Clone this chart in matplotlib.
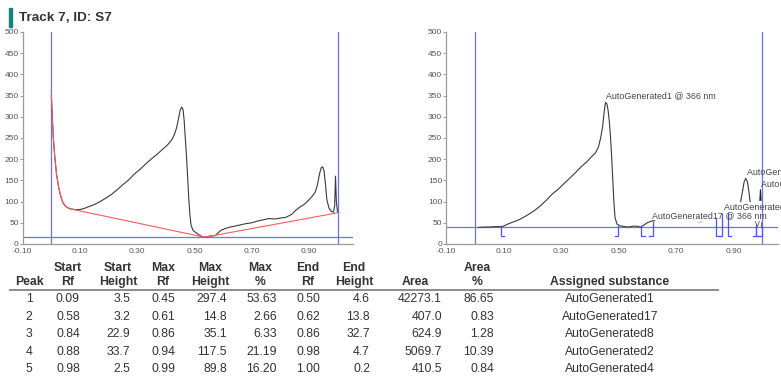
import matplotlib
matplotlib.use("Agg")
import matplotlib.pyplot as plt
from matplotlib.patches import Rectangle
from matplotlib.lines import Line2D

plt.rcParams['font.family'] = ['Liberation Sans', 'DejaVu Sans']

# ---------------- data ----------------
title = "Track 7, ID: S7"

# raw densitogram (left panel)
raw_rf = [0.000, 0.003, 0.007, 0.012, 0.018, 0.025, 0.033, 0.040, 0.048, 0.056,
          0.065, 0.075, 0.085, 0.095, 0.105, 0.115, 0.130, 0.150, 0.170, 0.190,
          0.210, 0.230, 0.250, 0.270, 0.290, 0.310, 0.330, 0.350, 0.370, 0.390,
          0.405, 0.420, 0.430, 0.438, 0.445, 0.450, 0.455, 0.460, 0.464, 0.468,
          0.472, 0.476, 0.480, 0.484, 0.488, 0.495, 0.505, 0.515, 0.525, 0.535,
          0.545, 0.555, 0.565, 0.575, 0.585, 0.595, 0.610, 0.625, 0.640, 0.660,
          0.680, 0.700, 0.720, 0.740, 0.760, 0.780, 0.800, 0.820, 0.840, 0.855,
          0.870, 0.885, 0.900, 0.912, 0.922, 0.930, 0.937, 0.943, 0.948, 0.953,
          0.958, 0.963, 0.970, 0.978, 0.986, 0.990, 0.993, 0.996, 1.000, 1.004]
raw_h = [350, 300, 250, 205, 165, 135, 112, 98, 90, 86,
         83, 82, 81, 81, 82, 84, 88, 93, 100, 108,
         117, 128, 140, 151, 165, 176, 189, 201, 212, 224,
         233, 245, 258, 275, 298, 315, 323, 318, 292, 250,
         210, 160, 110, 70, 45, 32, 27, 22, 18, 16,
         17, 19, 19, 21, 28, 33, 37, 40, 42, 45,
         48, 50, 54, 57, 60, 59, 61, 63, 70, 80,
         88, 94, 104, 113, 122, 140, 165, 180, 182, 172,
         140, 104, 85, 77, 75, 90, 160, 100, 76, 74]

# baseline (left panel)
base_rf = [0.000, 0.003, 0.007, 0.012, 0.018, 0.025, 0.033, 0.040, 0.048,
           0.056, 0.065, 0.535, 1.004]
base_h = [350, 300, 250, 205, 165, 135, 112, 98, 90, 86, 83, 16, 74]

left_hline = 16
right_hline = 39

# baseline-corrected track (right panel), drawn in pieces
corr_rf = [0.013, 0.030, 0.050, 0.070, 0.090, 0.100, 0.115, 0.130, 0.150, 0.170,
           0.190, 0.210, 0.230, 0.250, 0.270, 0.290, 0.310, 0.330, 0.350, 0.370,
           0.390, 0.405, 0.420, 0.430, 0.438, 0.445, 0.450, 0.455, 0.460, 0.464,
           0.468, 0.472, 0.476, 0.480, 0.484, 0.488, 0.495, 0.505, 0.520, 0.535,
           0.550, 0.565, 0.575, 0.585, 0.600, 0.615, 0.626]
corr_h = [39, 40, 40, 41, 41, 42, 47, 51, 56, 63,
          71, 80, 91, 104, 118, 129, 142, 155, 168, 182,
          194, 205, 215, 228, 250, 278, 310, 334, 330, 315,
          290, 255, 210, 155, 100, 62, 47, 43, 41, 40,
          42, 42, 40, 43, 50, 54, 55]
frag_rf = [0.776, 0.782, 0.788, 0.796]
frag_h = [51, 51, 52, 52]
p4_rf = [0.925, 0.931, 0.937, 0.943, 0.949, 0.954, 0.958]
p4_h = [100, 122, 146, 155, 146, 122, 100]
p5_rf = [0.992, 0.994, 0.996]
p5_h = [103, 128, 103]
v_rf = [0.976, 0.983, 0.990]
v_h = [53, 41, 53]

# peak table
peak_no = [1, 2, 3, 4, 5]
start_rf = [0.09, 0.58, 0.84, 0.88, 0.98]
start_height = [3.5, 3.2, 22.9, 33.7, 2.5]
max_rf = [0.45, 0.61, 0.86, 0.94, 0.99]
max_height = [297.4, 14.8, 35.1, 117.5, 89.8]
max_pct = [53.63, 2.66, 6.33, 21.19, 16.20]
end_rf = [0.50, 0.62, 0.86, 0.98, 1.00]
end_height = [4.6, 13.8, 32.7, 4.7, 0.2]
area = [42273.1, 407.0, 624.9, 5069.7, 410.5]
area_pct = [86.65, 0.83, 1.28, 10.39, 0.84]
substance = ["AutoGenerated1", "AutoGenerated17", "AutoGenerated8",
             "AutoGenerated2", "AutoGenerated4"]
wavelength = "366 nm"

x_ticks = [-0.10, 0.10, 0.30, 0.50, 0.70, 0.90]
y_ticks = [0, 50, 100, 150, 200, 250, 300, 350, 400, 450, 500]

# ---------------- figure ----------------
W, H, DPI = 781, 376, 100
fig = plt.figure(figsize=(W / DPI, H / DPI), dpi=DPI)

TXT = "#333333"
TICK = "#555555"
BLUE = "#6e6eff"
CURVE = "#3a3a3a"


def px(x, y):
    """pixel position (from top-left) -> figure fraction"""
    return x / W, 1 - y / H


# title with accent bar
fig.patches.append(Rectangle(px(9, 27), 3 / W, 19 / H, transform=fig.transFigure,
                             color="#16847c", zorder=5))
fig.text(*px(19, 18), title, fontsize=9.7, fontweight="bold", color=TXT,
         va="center", ha="left")


def style_axes(ax):
    ax.set_xlim(-0.10, 1.055)
    ax.set_ylim(0, 500)
    for s in ("top", "right"):
        ax.spines[s].set_visible(False)
    for s in ("left", "bottom"):
        ax.spines[s].set_color("#9a9a9a")
        ax.spines[s].set_linewidth(0.9)
    ax.set_xticks(x_ticks)
    ax.set_xticklabels([f"{t:.2f}".replace("\u2212", "-") for t in x_ticks])
    ax.set_yticks(y_ticks)
    ax.set_yticklabels([str(t) for t in y_ticks])
    ax.tick_params(axis="both", labelsize=6, labelcolor=TICK, colors="#9a9a9a")
    ax.tick_params(axis="x", length=0, pad=3)
    ax.tick_params(axis="y", length=2, width=0.7, pad=0.8)
    ax.patch.set_alpha(0)


# left panel: raw track with baseline
axL = fig.add_axes([22.75 / W, 1 - 244 / H, 330.5 / W, 212 / H])
style_axes(axL)
axL.plot(raw_rf, raw_h, color=CURVE, lw=0.8, zorder=3)
axL.plot(base_rf, base_h, color="#ff5a5a", lw=0.8, zorder=4)
axL.axhline(left_hline, color=BLUE, lw=0.9, zorder=2)
axL.axvline(0.0, color=BLUE, lw=0.9, zorder=2)
axL.axvline(1.0, color=BLUE, lw=0.9, zorder=2)

# right panel: baseline-corrected track with peak marks
axR = fig.add_axes([446 / W, 1 - 244 / H, 332 / W, 212 / H])
style_axes(axR)
axR.axhline(right_hline, color=BLUE, lw=0.9, zorder=2)
axR.axvline(0.0, color=BLUE, lw=0.9, zorder=2)
axR.axvline(1.0, color=BLUE, lw=0.9, zorder=2)
axR.plot(corr_rf, corr_h, color=CURVE, lw=0.8, zorder=3)
axR.plot(frag_rf, frag_h, color="#9a9a9a", lw=0.6, ls=(0, (2, 1)), zorder=3)
axR.plot(p4_rf, p4_h, color=CURVE, lw=0.8, zorder=3)
axR.plot(p5_rf, p5_h, color="#222222", lw=0.8, zorder=3)
axR.plot(v_rf, v_h, color="#555555", lw=0.6, zorder=3)
axR.plot([0.996, 0.996], [40, 53], color="#555555", lw=0.6, zorder=3)

mark_bottom = 19
tick_w = 0.013
for s_rf, s_h, e_rf, e_h in zip(start_rf, start_height, end_rf, end_height):
    axR.plot([s_rf, s_rf, s_rf + tick_w], [s_h + right_hline, mark_bottom, mark_bottom],
             color="#5050ff", lw=0.9, zorder=4)
    axR.plot([e_rf, e_rf, e_rf - tick_w], [e_h + right_hline, mark_bottom, mark_bottom],
             color="#5050ff", lw=0.9, zorder=4)

for m_rf, m_h, name in zip(max_rf, max_height, substance):
    axR.annotate(f"{name} @ {wavelength}", (m_rf, m_h + right_hline),
                 xytext=(1.5, 4), textcoords="offset points",
                 fontsize=6.4, color="#444444", ha="left", va="center",
                 annotation_clip=False, zorder=6)

# ---------------- table ----------------
hdr1_y, hdr2_y = 268, 282
row_y = [299.3, 316.8, 334.2, 351.7, 369]
FS = 8.8

# (header line1, header line2, header x, value anchor x, value align, values)
columns = [
    ("", "Peak", 29, 29, "center", [str(v) for v in peak_no]),
    ("Start", "Rf", 68, 68, "center", [f"{v:.2f}" for v in start_rf]),
    ("Start", "Height", 118, 130, "right", [f"{v:.1f}" for v in start_height]),
    ("Max", "Rf", 163, 163, "center", [f"{v:.2f}" for v in max_rf]),
    ("Max", "Height", 210, 227, "right", [f"{v:.1f}" for v in max_height]),
    ("Max", "%", 260, 277, "right", [f"{v:.2f}" for v in max_pct]),
    ("End", "Rf", 308, 308, "center", [f"{v:.2f}" for v in end_rf]),
    ("End", "Height", 354, 370, "right", [f"{v:.1f}" for v in end_height]),
    ("", "Area", 415, 442, "right", [f"{v:.1f}" for v in area]),
    ("Area", "%", 477, 494, "right", [f"{v:.2f}" for v in area_pct]),
    ("", "Assigned substance", 610, 610, "center", substance),
]

for h1, h2, hx, vx, align, vals in columns:
    if h1:
        fig.text(*px(hx, hdr1_y), h1, fontsize=FS, fontweight="bold", color=TXT,
                 ha="center", va="center")
    fig.text(*px(hx, hdr2_y), h2, fontsize=FS, fontweight="bold", color=TXT,
             ha="center", va="center")
    for ry, v in zip(row_y, vals):
        fig.text(*px(vx, ry), v, fontsize=FS, color=TXT, ha=align, va="center")

fig.add_artist(Line2D([10 / W, 718 / W], [1 - 289.5 / H, 1 - 289.5 / H],
                      transform=fig.transFigure, color="#8c8c8c", lw=1.4))

fig.savefig("out.png", dpi=DPI)
